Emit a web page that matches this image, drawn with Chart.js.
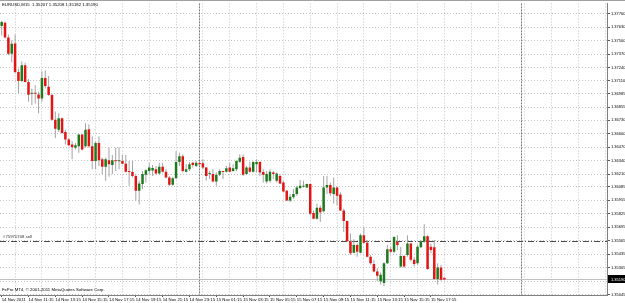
<!DOCTYPE html>
<html>
<head>
<meta charset="utf-8">
<script src="https://cdn.jsdelivr.net/npm/chart.js@4.4.1/dist/chart.umd.min.js"></script>
<style>
  html, body { margin: 0; padding: 0; background: #fff; }
  canvas { display: block; }
</style>
</head>
<body>
<canvas id="chart" width="625" height="303"></canvas>
<script>
const chartTitle = 'EURUSD,M15  1.35207 1.35208 1.35182 1.35190';
const footerText = 'FxPro MT4, \u00a9 2001-2011 MetaQuotes Software Corp.';
const orderLabel = '#75970708 sell';

// M15 bars, 14 Nov 2011 09:15 onwards
const opens = [
  1.37641, 1.37674, 1.37531, 1.37373, 1.37473, 1.37196, 1.37110, 1.37263, 1.37100, 1.36986,
  1.36991, 1.36979, 1.36941, 1.37139, 1.37053, 1.36973, 1.36734, 1.36639, 1.36750, 1.36616,
  1.36543, 1.36495, 1.36463, 1.36479, 1.36591, 1.36479, 1.36644, 1.36479, 1.36336, 1.36511,
  1.36352, 1.36281, 1.36342, 1.36297, 1.36339, 1.36333, 1.36336, 1.36310, 1.36235, 1.36230,
  1.36192, 1.36049, 1.36113, 1.36202, 1.36240, 1.36245, 1.36256, 1.36214, 1.36281, 1.36233,
  1.36176, 1.36106, 1.36170, 1.36326, 1.36383, 1.36233, 1.36256, 1.36319, 1.36288, 1.36317,
  1.36314, 1.36272, 1.36209, 1.36209, 1.36138, 1.36202, 1.36235, 1.36233, 1.36272, 1.36240,
  1.36256, 1.36329, 1.36374, 1.36209, 1.36272, 1.36233, 1.36304, 1.36326, 1.36230, 1.36138,
  1.36144, 1.36224, 1.36144, 1.36192, 1.36128, 1.36049, 1.35953, 1.35985, 1.36017, 1.36075,
  1.36087, 1.36080, 1.36113, 1.35832, 1.35778, 1.35883, 1.35851, 1.36080, 1.36103, 1.36017,
  1.36080, 1.36011, 1.35858, 1.35755, 1.35561, 1.35449, 1.35523, 1.35449, 1.35619, 1.35545,
  1.35411, 1.35341, 1.35268, 1.35172, 1.35157, 1.35348, 1.35482, 1.35459, 1.35555, 1.35316,
  1.35418, 1.35427, 1.35539, 1.35380, 1.35348, 1.35501, 1.35555, 1.35609, 1.35507, 1.35501,
  1.35195, 1.35306, 1.35207
];
const highs = [
  1.37693, 1.37684, 1.37559, 1.37502, 1.37559, 1.37228, 1.37301, 1.37285, 1.37129, 1.37036,
  1.37069, 1.37005, 1.37203, 1.37212, 1.37158, 1.36989, 1.36814, 1.36797, 1.36756, 1.36639,
  1.36558, 1.36527, 1.36511, 1.36594, 1.36594, 1.36702, 1.36692, 1.36575, 1.36527, 1.36575,
  1.36367, 1.36367, 1.36463, 1.36393, 1.36463, 1.36469, 1.36393, 1.36393, 1.36336, 1.36336,
  1.36209, 1.36144, 1.36240, 1.36256, 1.36319, 1.36297, 1.36288, 1.36319, 1.36319, 1.36256,
  1.36192, 1.36183, 1.36431, 1.36415, 1.36400, 1.36304, 1.36326, 1.36326, 1.36336, 1.36336,
  1.36352, 1.36278, 1.36240, 1.36256, 1.36224, 1.36256, 1.36240, 1.36288, 1.36319, 1.36304,
  1.36342, 1.36400, 1.36400, 1.36288, 1.36329, 1.36336, 1.36352, 1.36336, 1.36256, 1.36240,
  1.36256, 1.36240, 1.36224, 1.36209, 1.36144, 1.36056, 1.36017, 1.36065, 1.36097, 1.36151,
  1.36144, 1.36119, 1.36119, 1.35858, 1.35922, 1.35905, 1.36192, 1.36192, 1.36128, 1.36176,
  1.36087, 1.36033, 1.35874, 1.35762, 1.35635, 1.35578, 1.35539, 1.35635, 1.35698, 1.35571,
  1.35427, 1.35380, 1.35300, 1.35258, 1.35356, 1.35523, 1.35507, 1.35609, 1.35619, 1.35507,
  1.35427, 1.35619, 1.35542, 1.35411, 1.35523, 1.35571, 1.35724, 1.35619, 1.35539, 1.35571,
  1.35348, 1.35332, 1.35208
];
const lows = [
  1.37550, 1.37521, 1.37359, 1.37292, 1.37182, 1.36989, 1.37100, 1.37094, 1.36909, 1.36878,
  1.36893, 1.36797, 1.36909, 1.37036, 1.36967, 1.36728, 1.36558, 1.36616, 1.36599, 1.36495,
  1.36479, 1.36352, 1.36448, 1.36415, 1.36438, 1.36463, 1.36463, 1.36256, 1.36256, 1.36288,
  1.36209, 1.36144, 1.36183, 1.36209, 1.36240, 1.36256, 1.36304, 1.36224, 1.36097, 1.36176,
  1.35953, 1.35915, 1.36065, 1.36128, 1.36209, 1.36192, 1.36202, 1.36202, 1.36224, 1.36170,
  1.36094, 1.36097, 1.36161, 1.36288, 1.36224, 1.36224, 1.36240, 1.36272, 1.36278, 1.36288,
  1.36256, 1.36144, 1.36161, 1.36135, 1.36097, 1.36192, 1.36161, 1.36224, 1.36230, 1.36233,
  1.36240, 1.36319, 1.36192, 1.36202, 1.36224, 1.36224, 1.36224, 1.36192, 1.36128, 1.36119,
  1.36128, 1.36161, 1.36128, 1.36113, 1.36033, 1.35947, 1.35937, 1.35970, 1.36001, 1.36065,
  1.36080, 1.36075, 1.35810, 1.35772, 1.35769, 1.35746, 1.35841, 1.36017, 1.36001, 1.35922,
  1.35905, 1.35853, 1.35650, 1.35555, 1.35427, 1.35444, 1.35411, 1.35444, 1.35539, 1.35405,
  1.35332, 1.35258, 1.35172, 1.35141, 1.35124, 1.35341, 1.35444, 1.35444, 1.35475, 1.35300,
  1.35300, 1.35411, 1.35363, 1.35316, 1.35332, 1.35492, 1.35545, 1.35284, 1.35444, 1.35188,
  1.35141, 1.35179, 1.35182
];
const closes = [
  1.37679, 1.37531, 1.37373, 1.37469, 1.37196, 1.37110, 1.37263, 1.37100, 1.36976, 1.36991,
  1.36986, 1.36941, 1.37139, 1.37062, 1.36973, 1.36734, 1.36648, 1.36750, 1.36606, 1.36543,
  1.36489, 1.36469, 1.36489, 1.36591, 1.36448, 1.36639, 1.36479, 1.36336, 1.36511, 1.36342,
  1.36281, 1.36352, 1.36304, 1.36342, 1.36333, 1.36339, 1.36310, 1.36233, 1.36230, 1.36192,
  1.36049, 1.36119, 1.36209, 1.36247, 1.36272, 1.36269, 1.36214, 1.36281, 1.36233, 1.36176,
  1.36106, 1.36170, 1.36326, 1.36383, 1.36240, 1.36256, 1.36304, 1.36297, 1.36319, 1.36304,
  1.36272, 1.36192, 1.36214, 1.36138, 1.36202, 1.36240, 1.36230, 1.36266, 1.36233, 1.36266,
  1.36336, 1.36367, 1.36202, 1.36272, 1.36233, 1.36326, 1.36326, 1.36224, 1.36202, 1.36209,
  1.36233, 1.36209, 1.36214, 1.36119, 1.36042, 1.35953, 1.35991, 1.36017, 1.36080, 1.36097,
  1.36097, 1.36113, 1.35826, 1.35778, 1.35883, 1.35841, 1.36080, 1.36103, 1.36023, 1.36080,
  1.36001, 1.35858, 1.35755, 1.35561, 1.35444, 1.35523, 1.35459, 1.35619, 1.35545, 1.35411,
  1.35348, 1.35268, 1.35227, 1.35236, 1.35348, 1.35482, 1.35459, 1.35602, 1.35523, 1.35418,
  1.35316, 1.35539, 1.35380, 1.35339, 1.35507, 1.35555, 1.35609, 1.35291, 1.35475, 1.35195,
  1.35306, 1.35188, 1.35190
];

// time axis: 15 minute slots, the window holds more slots than bars
const firstBar = Date.UTC(2011, 10, 14, 9, 15);
const slotCount = 181;
const months = ['Jan', 'Feb', 'Mar', 'Apr', 'May', 'Jun', 'Jul', 'Aug', 'Sep', 'Oct', 'Nov', 'Dec'];
const pad = (n) => String(n).padStart(2, '0');
const categories = [];
for (let i = 0; i < slotCount; i++) {
  const d = new Date(firstBar + i * 15 * 60000);
  categories.push(`${d.getUTCDate()} ${months[d.getUTCMonth()]} ${pad(d.getUTCHours())}:${pad(d.getUTCMinutes())}`);
}
const timeLabels = [
  '14 Nov 2011', '14 Nov 11:15', '14 Nov 13:15', '14 Nov 15:15', '14 Nov 17:15', '14 Nov 19:15',
  '14 Nov 21:15', '14 Nov 23:15', '15 Nov 01:15', '15 Nov 03:15', '15 Nov 05:15', '15 Nov 07:15',
  '15 Nov 09:15', '15 Nov 11:15', '15 Nov 13:15', '15 Nov 15:15', '15 Nov 17:15',
];
const labelEvery = 8;
const daySeparators = ['15 Nov 00:00', '16 Nov 00:00'];

const priceTicks = [
  1.35045, 1.35175, 1.35305, 1.35435, 1.35565, 1.35695, 1.35825, 1.35955, 1.36085, 1.36210, 1.36340,
  1.36470, 1.36600, 1.36730, 1.36855, 1.36985, 1.37110, 1.37240, 1.37370, 1.37500, 1.37630, 1.37760,
];
const bidPrice = 1.35190;
const orderPrice = 1.35560;

const BULL = '#1c7a1c';
const BEAR = '#e31414';
const WICK = '#a4a4a4';
const GRID = '#c4c4c4';
const FONT = "'Liberation Sans', Arial, sans-serif";

const separatorIdx = daySeparators.map((c) => categories.indexOf(c));

const overlay = {
  id: 'overlay',
  beforeDatasetsDraw(chart) {
    const { ctx, chartArea: a, scales: { y } } = chart;
    ctx.save();
    let py = Math.round(y.getPixelForValue(bidPrice)) + 0.5;
    ctx.strokeStyle = '#c0c0c0';
    ctx.lineWidth = 1;
    ctx.beginPath(); ctx.moveTo(a.left, py); ctx.lineTo(a.right, py); ctx.stroke();

    py = Math.round(y.getPixelForValue(orderPrice)) + 0.5;
    ctx.strokeStyle = '#4a4a4a';
    ctx.setLineDash([6, 2, 1, 2]);
    ctx.beginPath(); ctx.moveTo(a.left, py); ctx.lineTo(a.right, py); ctx.stroke();
    ctx.restore();
  },
  afterDraw(chart) {
    const { ctx, chartArea: a, scales: { y } } = chart;
    ctx.save();
    ctx.strokeStyle = '#a0a0a0';
    ctx.beginPath(); ctx.moveTo(0, 0.5); ctx.lineTo(chart.width, 0.5); ctx.stroke();

    ctx.font = `4.3px ${FONT}`;
    ctx.fillStyle = '#000';
    ctx.textBaseline = 'middle';
    ctx.textAlign = 'left';
    ctx.fillText(chartTitle, 2, 5);
    ctx.fillText(footerText, 2, 290);
    ctx.fillStyle = '#333';
    ctx.fillText(orderLabel, 3, y.getPixelForValue(orderPrice) - 4);

    const by = Math.round(y.getPixelForValue(bidPrice));
    ctx.fillStyle = '#000';
    ctx.fillRect(a.right + 1, by - 4, chart.width - a.right - 1, 8);
    ctx.font = `4px ${FONT}`;
    ctx.fillStyle = '#fff';
    ctx.fillText(bidPrice.toFixed(5), a.right + 4, by + 0.5);
    ctx.restore();
  },
};

new Chart(document.getElementById('chart'), {
  type: 'bar',
  data: {
    labels: categories,
    datasets: [
      {
        label: 'body',
        data: opens.map((o, i) => [o, closes[i]]),
        backgroundColor: closes.map((c, i) => (c >= opens[i] ? BULL : BEAR)),
        barThickness: 2.5,
        minBarLength: 1,
        inflateAmount: 0,
        grouped: false,
      },
      {
        label: 'wick',
        data: lows.map((l, i) => [l, highs[i]]),
        backgroundColor: WICK,
        barThickness: 1,
        inflateAmount: 0,
        grouped: false,
      },
    ],
  },
  options: {
    responsive: false,
    animation: false,
    events: [],
    layout: { padding: 0 },
    plugins: { legend: { display: false }, tooltip: { enabled: false } },
    scales: {
      x: {
        type: 'category',
        offset: true,
        afterFit: (s) => { s.height = 8; },
        grid: {
          offset: false,
          color: (c) => (separatorIdx.includes(c.index) ? '#7a7a7a' : c.index % labelEvery === 4 ? GRID : 'transparent'),
          tickColor: (c) => (c.index % labelEvery === 0 && c.index / labelEvery < timeLabels.length ? '#555' : 'transparent'),
          tickLength: 2,
        },
        border: {
          display: true,
          color: '#808080',
          dash: (c) => (separatorIdx.includes(c.index) ? [2, 1] : [1, 2]),
        },
        ticks: {
          autoSkip: false,
          maxRotation: 0,
          minRotation: 0,
          align: 'start',
          padding: 0,
          color: '#000',
          font: { family: FONT, size: 4.3 },
          callback: (v, i) => (i % labelEvery === 0 ? timeLabels[i / labelEvery] ?? '' : ''),
        },
      },
      y: {
        type: 'linear',
        position: 'right',
        min: 1.35040,
        max: 1.37860,
        bounds: 'data',
        afterFit: (s) => { s.width = 18; },
        afterBuildTicks: (s) => { s.ticks = priceTicks.map((v) => ({ value: v })); },
        grid: { color: GRID, tickColor: '#555', tickLength: 3 },
        border: { display: true, color: '#808080', dash: [1, 2] },
        ticks: {
          padding: 1,
          color: '#000',
          font: { family: FONT, size: 4 },
          callback: (v) => v.toFixed(5),
        },
      },
    },
  },
  plugins: [overlay],
});
</script>
</body>
</html>
